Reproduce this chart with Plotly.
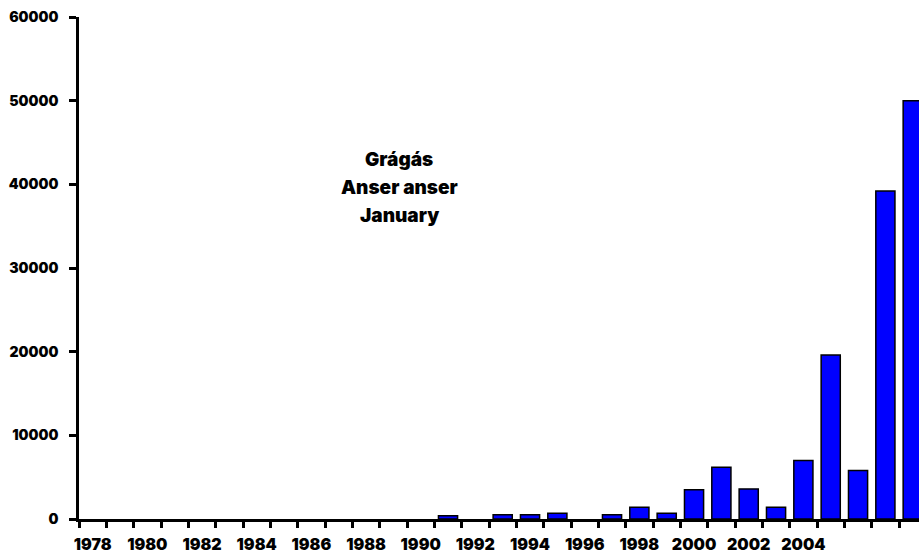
import plotly.graph_objects as go

years = list(range(1978, 2009))
counts = [0, 0, 0, 0, 0, 0, 0, 0, 0, 0, 0, 0, 0,
          400, 0, 500, 500, 700, 0, 500, 1400, 700,
          3500, 6200, 3600, 1400, 7000, 19600, 5800, 39200, 50000]
label_years = list(range(1978, 2005, 2))
label_text = [str(y) for y in label_years]
y_ticks = [0, 10000, 20000, 30000, 40000, 50000, 60000]
title_lines = ["Grágás", "Anser anser", "January"]

FONT = "Inter, Arial Black, DejaVu Sans, sans-serif"
WEIGHT = 900

W, H = 919, 556
L, T, B, R = 79, 17, 37, 0
plot_w = W - L - R
plot_h = H - T - B

fig = go.Figure()
fig.add_trace(go.Bar(
    x=years, y=[c if c > 0 else None for c in counts], width=0.7,
    marker=dict(color="#0000FF", line=dict(color="black", width=1.5)),
))

annotations = []
line_centers_px = [160, 187, 215]  # pixel y of each title line centre
for text, cy in zip(title_lines, line_centers_px):
    annotations.append(dict(
        x=(399 - L) / plot_w, y=(T + plot_h - cy) / plot_h,
        xref="paper", yref="paper", xanchor="center", yanchor="middle",
        text=text, showarrow=False,
        font=dict(family=FONT, size=19, weight=WEIGHT),
    ))

fig.update_layout(
    width=W, height=H,
    margin=dict(l=L, r=R, t=T, b=B),
    paper_bgcolor="white", plot_bgcolor="white",
    showlegend=False,
    font=dict(family=FONT, size=14, color="black", weight=WEIGHT),
    xaxis=dict(
        range=[1977.5, 2008.23],
        tickvals=label_years, ticktext=label_text,
        ticks="outside", ticklen=9, tickcolor="white", tickwidth=0.1,
        showline=True, linecolor="black", linewidth=2.5,
        showgrid=False, zeroline=False,
        tickfont=dict(family=FONT, size=16, weight=WEIGHT),
        minor=dict(tickvals=[y - 0.5 for y in years] + [2008.5],
                   ticks="outside", ticklen=6, tickwidth=2.5, tickcolor="black",
                   showgrid=False),
    ),
    yaxis=dict(
        range=[0, 60000],
        tickvals=y_ticks, ticktext=[str(v) for v in y_ticks],
        ticks="outside", ticklen=7, tickwidth=2.5, tickcolor="black",
        ticklabelstandoff=8,
        showline=True, linecolor="black", linewidth=2.5,
        showgrid=False, zeroline=False,
        tickfont=dict(family=FONT, size=14, weight=WEIGHT),
    ),
    annotations=annotations,
)

fig.write_html("out.html", config={"displayModeBar": False},
               post_script="document.body.style.margin='0';document.documentElement.style.overflow='hidden';")
